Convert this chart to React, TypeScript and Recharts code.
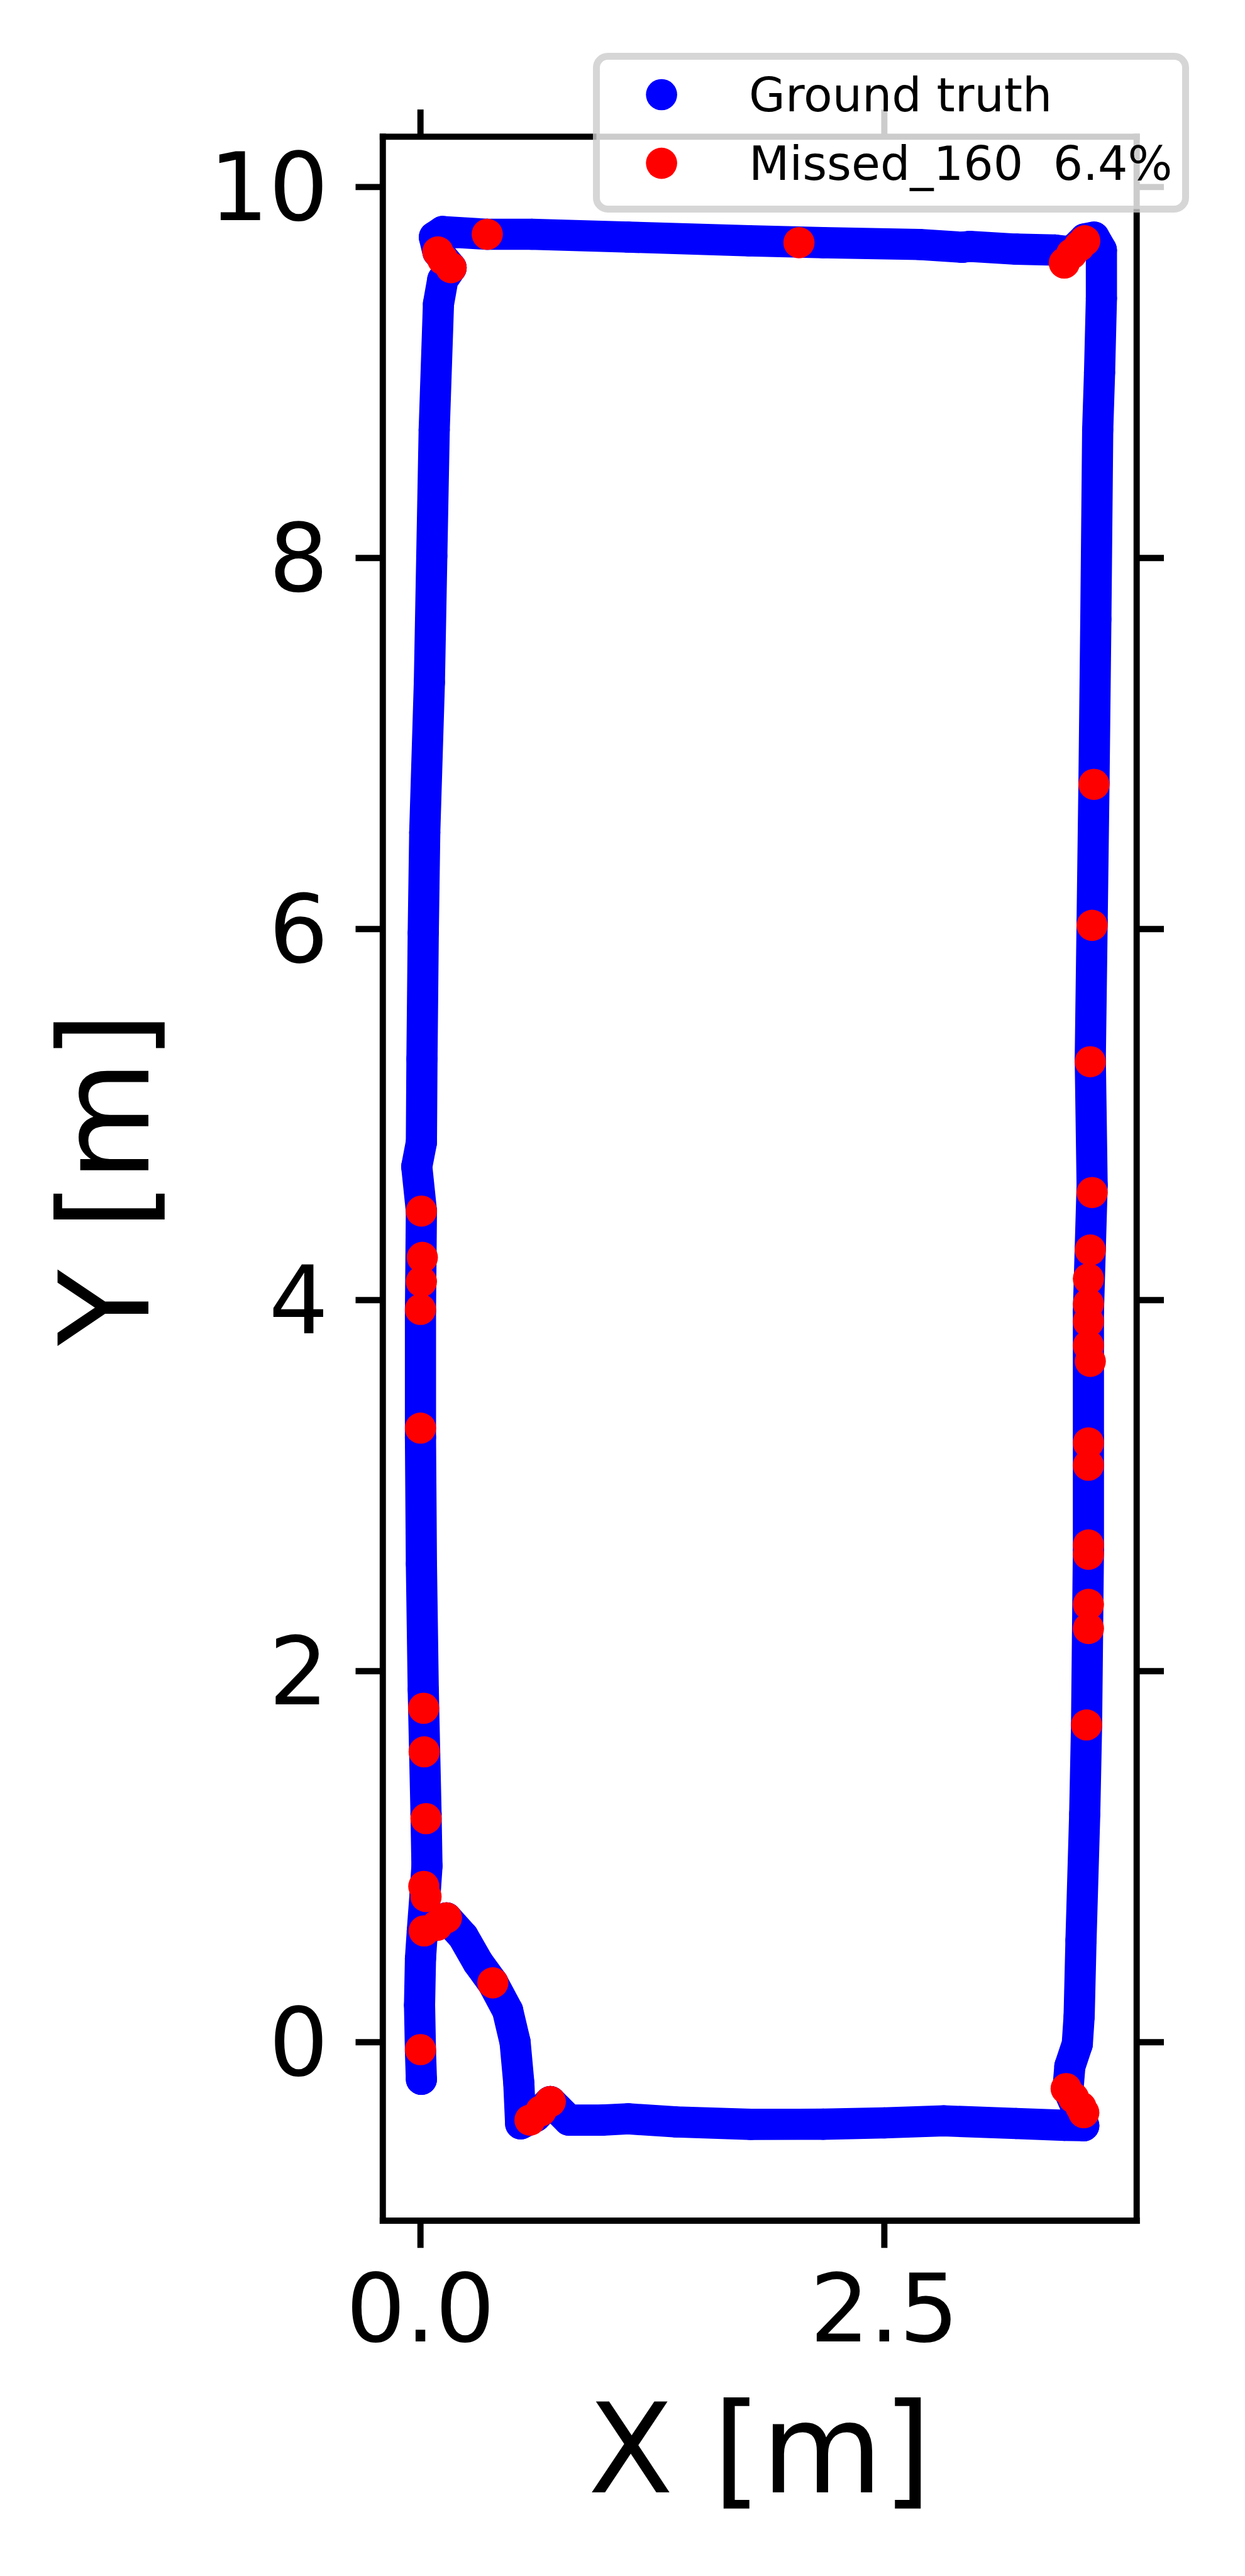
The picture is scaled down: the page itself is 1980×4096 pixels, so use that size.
import React from "react";
import { ComposedChart, Scatter, XAxis, YAxis, Legend } from "recharts";

// ---- data (metres) ----
// ground truth trajectory, in the order it was driven
const leftSide = [
  [0.005, -0.2], [0.0, -0.05], [-0.005, 0.2], [0.0, 0.45], [0.01, 0.6], [0.025, 0.8],
  [0.035, 0.95], [0.03, 1.23], [0.015, 1.9], [0.005, 2.58], [0.0, 3.26], [0.0, 3.94],
  [0.005, 4.48], [-0.02, 4.72], [0.005, 4.85], [0.008, 5.3], [0.015, 5.98], [0.023, 6.52],
  [0.048, 7.33], [0.061, 8.01], [0.074, 8.69], [0.097, 9.37], [0.12, 9.5], [0.165, 9.565],
  [0.094, 9.65], [0.075, 9.73],
];
const topSide = [
  [0.12, 9.76], [0.36, 9.745], [0.6, 9.745], [1.12, 9.73], [1.77, 9.71], [2.17, 9.7],
  [2.69, 9.69], [2.92, 9.675], [2.96, 9.68], [3.21, 9.665], [3.42, 9.66], [3.51, 9.65],
  [3.58, 9.72], [3.63, 9.73],
];
const rightSide = [
  [3.67, 9.66], [3.67, 9.4], [3.66, 9.0], [3.65, 8.69], [3.64, 7.67], [3.63, 6.79],
  [3.62, 6.04], [3.61, 5.3], [3.62, 4.62], [3.61, 4.28], [3.6, 3.94], [3.6, 3.26],
  [3.6, 2.65], [3.59, 1.71], [3.58, 1.23], [3.56, 0.55], [3.55, 0.14], [3.54, -0.01],
  [3.5, -0.13], [3.49, -0.25], [3.53, -0.34], [3.575, -0.45],
];
const bottomSide = [
  [3.47, -0.448], [3.21, -0.438], [2.82, -0.424], [2.5, -0.435], [2.17, -0.442],
  [1.78, -0.443], [1.38, -0.43], [1.12, -0.413], [0.98, -0.42], [0.8, -0.42],
  [0.74, -0.36], [0.7, -0.32], [0.62, -0.4], [0.54, -0.44],
];
const returnCurve = [
  [0.53, -0.22], [0.51, 0.0], [0.47, 0.17], [0.39, 0.32], [0.31, 0.43], [0.23, 0.57],
  [0.14, 0.67], [0.07, 0.63], [0.02, 0.6],
];

// positions with no detection (Missed_160)
const missedLeft = [
  [0.005, 4.48], [0.01, 4.23], [0.005, 4.1], [0.0, 3.95], [0.0, 3.31], [0.017, 1.8],
  [0.02, 1.565], [0.03, 1.205], [0.018, 0.84], [0.03, 0.785], [0.0, -0.04],
];
const missedStartCorner = [
  [0.02, 0.6], [0.09, 0.63], [0.14, 0.67], [0.39, 0.32], [0.59, -0.42], [0.65, -0.37], [0.7, -0.32],
];
const missedTop = [
  [0.094, 9.65], [0.12, 9.61], [0.165, 9.565], [0.36, 9.745], [2.04, 9.7],
  [3.47, 9.59], [3.51, 9.64], [3.55, 9.68], [3.58, 9.71],
];
const missedRight = [
  [3.63, 6.78], [3.62, 6.02], [3.61, 5.285], [3.62, 4.58], [3.61, 4.27], [3.6, 4.115],
  [3.6, 3.98], [3.6, 3.885], [3.6, 3.755], [3.61, 3.67], [3.6, 3.23], [3.6, 3.11],
  [3.6, 2.68], [3.6, 2.63], [3.6, 2.36], [3.6, 2.23], [3.59, 1.71],
  [3.48, -0.25], [3.52, -0.3], [3.56, -0.35], [3.575, -0.38],
];

const xTicks = [0, 2.5];
const yTicks = [0, 2, 4, 6, 8, 10];
const xDomain = [-0.203, 3.86];
const yDomain = [-0.962, 10.271];
const seriesNames = ["Ground truth", "Missed_160  6.4%"];

const toPoints = (...parts: number[][][]) => parts.flat().map(([x, y]) => ({ x, y }));
const groundTruth = toPoints(leftSide, topSide, rightSide, bottomSide, returnCurve);
const missed = toPoints(missedLeft, missedStartCorner, missedTop, missedRight);

// ---- layout (page px) ----
const W = 1980;
const H = 4096;
const PLOT_LEFT = 608.8;
const PLOT_RIGHT = 1807.7;
const PLOT_TOP = 217.4;
const PLOT_BOTTOM = 3531;
const LEFT_AXIS_W = 200;
const RIGHT_AXIS_W = 100;
const BOTTOM_AXIS_H = 200;
const TOP_AXIS_H = 100;
const TICK = 43.3;
const LINE_W = 9.9;
const R = 24.8; // marker radius
const FONT = "DejaVu Sans";

const BLUE = "#0000ff";
const RED = "#ff0000";

const axisLine = { stroke: "#000", strokeWidth: LINE_W, strokeLinecap: "square" as const };
const tickLine = { stroke: "#000", strokeWidth: LINE_W };
const tickFont = { fontSize: 149, fill: "#000", fontFamily: FONT };
const noLabel = () => "";

const LEG_X = 942.7;
const LEG_Y = 84.4;
const LEG_W = 948;
const LEG_H = 254;

function Dot(color: string) {
  return (p: any) => <circle cx={p.cx} cy={p.cy} r={R} fill={color} />;
}

// dense markers look like a thick round-capped stroke through the points
function TrackLine(props: any) {
  const pts = (props.points || []).filter((p: any) => p && Number.isFinite(p.x) && Number.isFinite(p.y));
  if (!pts.length) return null;
  const d = pts.map((p: any, i: number) => `${i ? "L" : "M"}${p.x},${p.y}`).join(" ");
  return (
    <path
      d={d}
      fill="none"
      stroke={BLUE}
      strokeWidth={2 * R}
      strokeLinecap="round"
      strokeLinejoin="round"
    />
  );
}

function LegendBox(props: any) {
  const items = props.payload && props.payload.length ? props.payload : [];
  const rows = seriesNames.map((name, i) => ({
    name: items[i]?.value ?? name,
    color: items[i]?.color ?? (i === 0 ? BLUE : RED),
  }));
  return (
    <svg width={LEG_W} height={LEG_H} style={{ display: "block" }}>
      <rect
        x={5.5}
        y={5.5}
        width={LEG_W - 11}
        height={LEG_H - 11}
        rx={18}
        fill="#fff"
        fillOpacity={0.8}
        stroke="#cccccc"
        strokeOpacity={0.8}
        strokeWidth={11}
      />
      {rows.map((r, i) => (
        <g key={r.name}>
          <circle cx={109.1} cy={66.5 + i * 109.1} r={R} fill={r.color} />
          <text
            x={248}
            y={92.6 + i * 109.1}
            fontFamily={FONT}
            fontSize={74.7}
            fill="#000"
            style={{ whiteSpace: "pre" }}
          >
            {r.name}
          </text>
        </g>
      ))}
    </svg>
  );
}

export default function App() {
  return (
    <div style={{ position: "absolute", left: 0, top: 0, width: W, height: H, background: "#fff" }}>
      <ComposedChart
        width={W}
        height={H}
        margin={{
          top: PLOT_TOP - TOP_AXIS_H,
          bottom: H - PLOT_BOTTOM - BOTTOM_AXIS_H,
          left: PLOT_LEFT - LEFT_AXIS_W,
          right: W - PLOT_RIGHT - RIGHT_AXIS_W,
        }}
        style={{ fontFamily: FONT }}
      >
        <XAxis
          xAxisId="b"
          orientation="bottom"
          type="number"
          dataKey="x"
          domain={xDomain}
          allowDataOverflow
          ticks={xTicks}
          interval={0}
          height={BOTTOM_AXIS_H}
          tickSize={TICK}
          tickMargin={TICK}
          axisLine={axisLine}
          tickLine={tickLine}
          tick={tickFont}
          tickFormatter={(v: number) => v.toFixed(1)}
          label={{
            content: () => (
              <text
                x={(PLOT_LEFT + PLOT_RIGHT) / 2}
                y={3963}
                textAnchor="middle"
                fontFamily={FONT}
                fontSize={198}
                fill="#000"
              >
                X [m]
              </text>
            ),
          }}
        />
        <XAxis
          xAxisId="t"
          orientation="top"
          type="number"
          dataKey="x"
          domain={xDomain}
          allowDataOverflow
          ticks={xTicks}
          interval={0}
          height={TOP_AXIS_H}
          tickSize={TICK}
          axisLine={axisLine}
          tickLine={tickLine}
          tickFormatter={noLabel}
        />
        <YAxis
          yAxisId="l"
          orientation="left"
          type="number"
          dataKey="y"
          domain={yDomain}
          allowDataOverflow
          ticks={yTicks}
          interval={0}
          width={LEFT_AXIS_W}
          tickSize={TICK}
          tickMargin={TICK}
          axisLine={axisLine}
          tickLine={tickLine}
          tick={tickFont}
          label={{
            content: () => {
              const cx = 236;
              const cy = (PLOT_TOP + PLOT_BOTTOM) / 2;
              return (
                <text
                  x={cx}
                  y={cy}
                  transform={`rotate(-90 ${cx} ${cy})`}
                  textAnchor="middle"
                  fontFamily={FONT}
                  fontSize={198}
                  fill="#000"
                >
                  Y [m]
                </text>
              );
            },
          }}
        />
        <YAxis
          yAxisId="r"
          orientation="right"
          type="number"
          dataKey="y"
          domain={yDomain}
          allowDataOverflow
          ticks={yTicks}
          interval={0}
          width={RIGHT_AXIS_W}
          tickSize={TICK}
          axisLine={axisLine}
          tickLine={tickLine}
          tickFormatter={noLabel}
        />
        <Scatter
          name={seriesNames[0]}
          data={groundTruth}
          xAxisId="b"
          yAxisId="l"
          fill={BLUE}
          line={TrackLine}
          lineType="joint"
          shape={Dot(BLUE)}
          isAnimationActive={false}
        />
        <Scatter
          name={seriesNames[1]}
          data={missed}
          xAxisId="b"
          yAxisId="l"
          fill={RED}
          shape={Dot(RED)}
          isAnimationActive={false}
        />
        <Legend
          layout="horizontal"
          verticalAlign="middle"
          align="center"
          width={LEG_W}
          height={LEG_H}
          wrapperStyle={{ left: LEG_X, top: LEG_Y, width: LEG_W, height: LEG_H, margin: 0, padding: 0 }}
          content={LegendBox}
        />
      </ComposedChart>
    </div>
  );
}
